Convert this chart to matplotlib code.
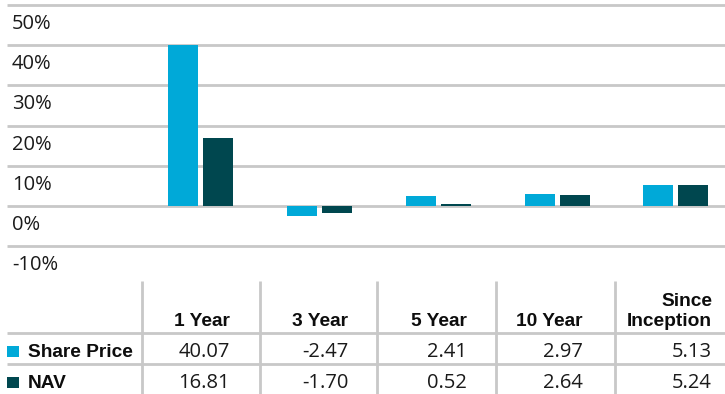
import numpy as np
import matplotlib.pyplot as plt
from matplotlib.patches import Rectangle

# fund performance, % total return
periods = ["1 Year", "3 Year", "5 Year", "10 Year", "Since\nInception"]
share_price = [40.07, -2.47, 2.41, 2.97, 5.13]
nav = [16.81, -1.70, 0.52, 2.64, 5.24]
series_names = ["Share Price", "NAV"]
y_ticks = [50, 40, 30, 20, 10, 0, -10]

c_share = "#00a9d8"
c_nav = "#00474f"
c_grid = "#c8c8c8"
num_font = "Open Sans"
head_font = "Liberation Sans"

W, H = 725, 394
fig = plt.figure(figsize=(W / 100, H / 100), dpi=100)

# ---- bar chart part ----
# category i is centred at pixel 200.8 + i*118.8
step = 118.8
c0 = 200.8
ax = fig.add_axes([0, (H - 246) / H, 1, 241 / H])
ax.set_xlim(-c0 / step, (W - c0) / step)
ax.set_ylim(-10, 50)
ax.axis("off")

x = np.arange(len(periods))
bw = 30 / step
off = 17.5 / step
ax.bar(x - off, share_price, bw, color=c_share, zorder=3)
ax.bar(x + off, nav, bw, color=c_nav, zorder=3)

gx0 = (7 - c0) / step
for t in y_ticks:
    ax.hlines(t, gx0, (W - c0) / step, color=c_grid, lw=2, zorder=1, clip_on=False)
    # tick label sits under its gridline
    ax.annotate(f"{t}%", xy=(12 / W, t), xycoords=ax.get_yaxis_transform(),
                xytext=(0, -17.3), textcoords="offset points",
                ha="left", va="baseline", fontsize=14.5, family=num_font, color="#1a1a1a")

# ---- table part (pixel coordinates) ----
tb = fig.add_axes([0, 0, 1, 1])
tb.set_xlim(0, W)
tb.set_ylim(H, 0)
tb.axis("off")

seps = [142, 260, 377, 496, 615]
right_edges = [230, 348.5, 467, 582.5, 712]
for s in seps:
    tb.plot([s, s], [281, H], color=c_grid, lw=2, solid_capstyle="butt")
for yy in [333, 364]:
    tb.plot([7, W], [yy, yy], color=c_grid, lw=2, solid_capstyle="butt")

for label, xr in zip(periods, right_edges):
    tb.text(xr, 326, label, ha="right", va="baseline", fontsize=13.8,
            family=head_font, weight="bold", color="#0d0d0d", linespacing=1.2)

rows = [(series_names[0], share_price, c_share, 357),
        (series_names[1], nav, c_nav, 388)]
for name, vals, col, base in rows:
    tb.add_patch(Rectangle((7, base - 11), 12, 11, color=col, lw=0))
    tb.text(28, base, name, ha="left", va="baseline", fontsize=13.8,
            family=head_font, weight="bold", color="#0d0d0d")
    for v, xr in zip(vals, right_edges):
        tb.text(xr, base, f"{v:.2f}", ha="right", va="baseline",
                fontsize=14.5, family=num_font, color="#1a1a1a")

fig.savefig("out.png", dpi=100)
